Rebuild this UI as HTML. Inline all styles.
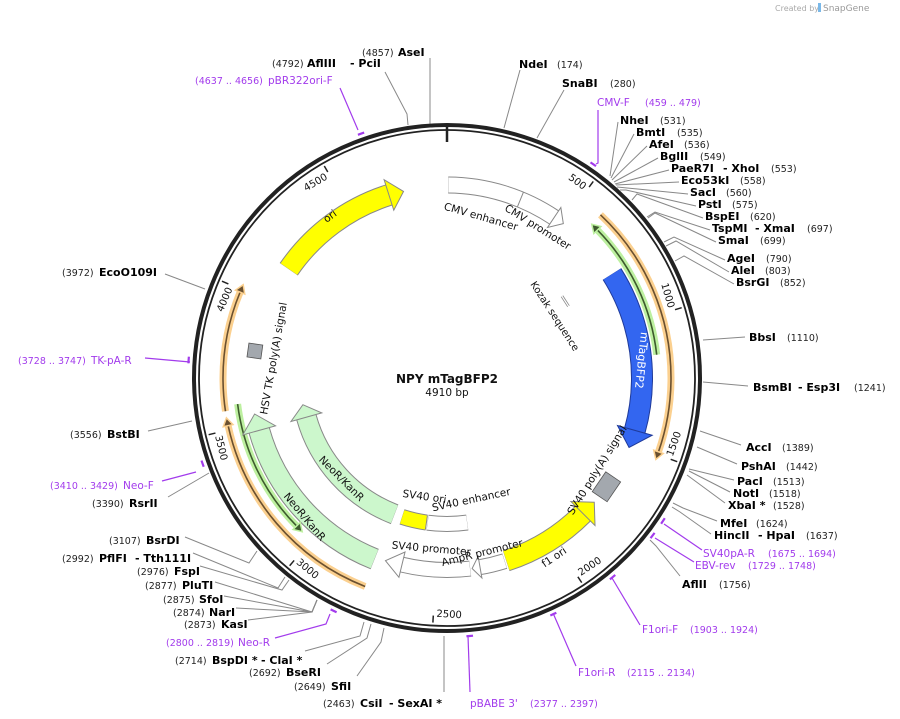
<!DOCTYPE html>
<html><head><meta charset="utf-8"><style>
html,body{margin:0;padding:0;background:#fff;}
svg{display:block;}
text{font-family:"DejaVu Sans","Liberation Sans",sans-serif;}
.b{font-weight:bold;font-size:11px;fill:#000;}
.n{font-size:9.5px;fill:#222;}
.p{font-size:10.5px;fill:#a23bec;}
.pn{font-size:9.5px;fill:#a23bec;}
.t{font-size:10px;fill:#111;}
.f{font-size:11px;fill:#111;}
</style></head><body>
<svg width="900" height="719" viewBox="0 0 900 719" xmlns="http://www.w3.org/2000/svg">
<rect width="900" height="719" fill="#fff"/>
<text x="775" y="11" style="font-size:8px;fill:#aaa">Created by</text>
<rect x="818" y="3" width="3" height="9" fill="#7ab8e8"/>
<text x="823" y="11" style="font-size:9px;fill:#999">SnapGene</text>

<g stroke="#888" stroke-width="1" fill="none">
<polyline points="430,124 430,58"/>
<polyline points="408,125 407,114 385,72"/>
<polyline points="504,128 520,70"/>
<polyline points="537,138 564,90"/>
<polyline points="610,176 618,122"/>
<polyline points="611,178 634,134"/>
<polyline points="612,180 647,146"/>
<polyline points="614,182 658,158"/>
<polyline points="615,184 669,170"/>
<polyline points="616,185 679,182"/>
<polyline points="617,187 688,194"/>
<polyline points="620,190 626,190 696,206"/>
<polyline points="632,200 637,194 703,218"/>
<polyline points="647,217 655,212 710,230"/>
<polyline points="648,218 655,213 716,242"/>
<polyline points="664,242 674,237 725,260"/>
<polyline points="666,246 676,241 729,272"/>
<polyline points="675,261 684,256 734,284"/>
<polyline points="703,340 745,337"/>
<polyline points="703,382 748,386"/>
<polyline points="700,431 741,445"/>
<polyline points="697,447 737,464"/>
<polyline points="689,469 734,480"/>
<polyline points="689,471 730,492"/>
<polyline points="687,475 725,503"/>
<polyline points="673,503 683,508 717,521"/>
<polyline points="672,507 680,512 711,534"/>
<polyline points="650,540 656,546 680,576"/>
<polyline points="444,636 444,692"/>
<polyline points="384,628 381,642 357,676"/>
<polyline points="371,624 367,638 327,664"/>
<polyline points="364,622 360,636 305,651"/>
<polyline points="317,600 312,612 248,620"/>
<polyline points="317,600 312,612 236,608"/>
<polyline points="317,600 312,612 224,596"/>
<polyline points="317,600 312,612 215,582"/>
<polyline points="289,580 282,590 200,566"/>
<polyline points="285,577 278,588 193,553"/>
<polyline points="257,551 249,563 185,537"/>
<polyline points="209,473 168,497"/>
<polyline points="192,421 148,431"/>
<polyline points="205,289 165,274"/>
</g>
<g stroke="#a23bec" stroke-width="1.2" fill="none">
<polyline points="358,130 340,88"/>
<polyline points="596,164 598,163 598,110"/>
<polyline points="664,524 702,550"/>
<polyline points="655,538 694,562"/>
<polyline points="612,578 640,625"/>
<polyline points="553,613 576,666"/>
<polyline points="468,636 470,692"/>
<polyline points="330,614 326,624 275,638"/>
<polyline points="196,472 162,481"/>
<polyline points="190,362 145,358"/>
</g>

<g transform="translate(447,378)">
<circle r="253" fill="none" stroke="#222" stroke-width="4"/>
<circle r="248" fill="none" stroke="#222" stroke-width="1.8"/>
<g transform="rotate(-90)" fill="none" stroke="#a23bec" stroke-width="2.2">
<circle r="259" pathLength="4910" stroke-dasharray="0 4637 20 4910"/>
<circle r="259" pathLength="4910" stroke-dasharray="0 459 20 4910"/>
<circle r="259" pathLength="4910" stroke-dasharray="0 1675 20 4910"/>
<circle r="259" pathLength="4910" stroke-dasharray="0 1729 20 4910"/>
<circle r="259" pathLength="4910" stroke-dasharray="0 1903 21 4910"/>
<circle r="259" pathLength="4910" stroke-dasharray="0 2115 20 4910"/>
<circle r="259" pathLength="4910" stroke-dasharray="0 2377 20 4910"/>
<circle r="259" pathLength="4910" stroke-dasharray="0 2800 20 4910"/>
<circle r="259" pathLength="4910" stroke-dasharray="0 3410 20 4910"/>
<circle r="259" pathLength="4910" stroke-dasharray="0 3728 20 4910"/>
</g>
<g stroke="#222" stroke-width="1.5">
<line x1="0" y1="-252" x2="0" y2="-236" stroke-width="2.5"/>
<line x1="0" y1="-245" x2="0" y2="-238" transform="rotate(36.66)"/>
<line x1="0" y1="-245" x2="0" y2="-238" transform="rotate(73.32)"/>
<line x1="0" y1="-245" x2="0" y2="-238" transform="rotate(109.98)"/>
<line x1="0" y1="-245" x2="0" y2="-238" transform="rotate(146.64)"/>
<line x1="0" y1="-245" x2="0" y2="-238" transform="rotate(183.3)"/>
<line x1="0" y1="-245" x2="0" y2="-238" transform="rotate(219.96)"/>
<line x1="0" y1="-245" x2="0" y2="-238" transform="rotate(256.62)"/>
<line x1="0" y1="-245" x2="0" y2="-238" transform="rotate(293.28)"/>
<line x1="0" y1="-245" x2="0" y2="-238" transform="rotate(329.94)"/>
</g>
<g class="t" style="font-size:10px">
<text transform="rotate(36.66)" x="-3" y="-232" text-anchor="end">500</text>
<text transform="rotate(73.32)" x="-3" y="-232" text-anchor="end">1000</text>
<text transform="rotate(-70.02)" x="3" y="239" text-anchor="start">1500</text>
<text transform="rotate(-33.36)" x="3" y="239" text-anchor="start">2000</text>
<text transform="rotate(3.3)" x="3" y="239" text-anchor="start">2500</text>
<text transform="rotate(39.96)" x="3" y="239" text-anchor="start">3000</text>
<text transform="rotate(76.62)" x="3" y="239" text-anchor="start">3500</text>
<text transform="rotate(293.28)" x="-3" y="-232" text-anchor="end">4000</text>
<text transform="rotate(329.94)" x="-3" y="-232" text-anchor="end">4500</text>
</g>

<g transform="rotate(-90)" fill="none">
<circle r="224" pathLength="4910" stroke="#fbd08f" stroke-width="7" stroke-dasharray="0 590 900 4910"/>
<circle r="224" pathLength="4910" stroke="#6a5030" stroke-width="1.6" stroke-dasharray="0 590 900 4910"/>
<circle r="224" pathLength="4910" stroke="#fbd08f" stroke-width="7" stroke-dasharray="0 3567 423 4910"/>
<circle r="224" pathLength="4910" stroke="#6a5030" stroke-width="1.6" stroke-dasharray="0 3567 423 4910"/>
<circle r="224" pathLength="4910" stroke="#fbd08f" stroke-width="7" stroke-dasharray="0 2748 767 4910"/>
<circle r="224" pathLength="4910" stroke="#6a5030" stroke-width="1.6" stroke-dasharray="0 2748 767 4910"/>
<circle r="211" pathLength="4910" stroke="#bdf0a0" stroke-width="7" stroke-dasharray="0 620 521 4910"/>
<circle r="211" pathLength="4910" stroke="#3d5a2d" stroke-width="1.6" stroke-dasharray="0 620 521 4910"/>
<circle r="211" pathLength="4910" stroke="#bdf0a0" stroke-width="7" stroke-dasharray="0 3075 511 4910"/>
<circle r="211" pathLength="4910" stroke="#3d5a2d" stroke-width="1.6" stroke-dasharray="0 3075 511 4910"/>

<circle r="195" pathLength="4910" stroke="#1f3a9a" stroke-width="22" stroke-dasharray="0 788 652 4910"/>
<circle r="195" pathLength="4910" stroke="#3366f0" stroke-width="20" stroke-dasharray="0 788.5 652 4910"/>
<circle r="192" pathLength="4910" stroke="#888" stroke-width="22" stroke-dasharray="0 4153 517 4910"/>
<circle r="192" pathLength="4910" stroke="#ffff00" stroke-width="20" stroke-dasharray="0 4154 516 4910"/>
<circle r="193" pathLength="4910" stroke="#888" stroke-width="17" stroke-dasharray="0 5 455 4910"/>
<circle r="193" pathLength="4910" stroke="#fff" stroke-width="15" stroke-dasharray="0 6 453 4910"/>
<circle r="192" pathLength="4910" stroke="#888" stroke-width="22" stroke-dasharray="0 1840 370 4910"/>
<circle r="192" pathLength="4910" stroke="#ffff00" stroke-width="20" stroke-dasharray="0 1840 369 4910"/>
<circle r="192" pathLength="4910" stroke="#888" stroke-width="16" stroke-dasharray="0 2216 104 4910"/>
<circle r="192" pathLength="4910" stroke="#fff" stroke-width="14" stroke-dasharray="0 2217 103 4910"/>
<circle r="192" pathLength="4910" stroke="#888" stroke-width="16" stroke-dasharray="0 2360 280 4910"/>
<circle r="192" pathLength="4910" stroke="#fff" stroke-width="14" stroke-dasharray="0 2361 279 4910"/>
<circle r="195" pathLength="4910" stroke="#888" stroke-width="22" stroke-dasharray="0 2752 718 4910"/>
<circle r="195" pathLength="4910" stroke="#ccf7cc" stroke-width="20" stroke-dasharray="0 2753 717 4910"/>
<circle r="146" pathLength="4910" stroke="#888" stroke-width="21" stroke-dasharray="0 2742 728 4910"/>
<circle r="146" pathLength="4910" stroke="#ccf7cc" stroke-width="19" stroke-dasharray="0 2743 727 4910"/>
<circle r="146" pathLength="4910" stroke="#888" stroke-width="16" stroke-dasharray="0 2346 214 4910"/>
<circle r="146" pathLength="4910" stroke="#fff" stroke-width="14" stroke-dasharray="0 2347 212 4910"/>
<circle r="146" pathLength="4910" stroke="#888" stroke-width="16" stroke-dasharray="0 2565 135 4910"/>
<circle r="146" pathLength="4910" stroke="#ffff00" stroke-width="14" stroke-dasharray="0 2566 133 4910"/>
</g>
<line x1="0" y1="-185" x2="0" y2="-201" stroke="#888" transform="rotate(22.36)"/>
<line x1="0" y1="-139" x2="0" y2="-153" stroke="#888" transform="rotate(188.1)"/>

<polygon transform="rotate(109.25)" points="0,-229 0,-219 8,-224" fill="#6a5030" stroke="#fbd08f" stroke-width="1.5"/>
<polygon transform="rotate(292.55)" points="0,-229 0,-219 8,-224" fill="#6a5030" stroke="#fbd08f" stroke-width="1.5"/>
<polygon transform="rotate(257.72)" points="0,-229 0,-219 8,-224" fill="#6a5030" stroke="#fbd08f" stroke-width="1.5"/>
<polygon transform="rotate(45.46)" points="0,-216 0,-206 -8,-211" fill="#3d5a2d" stroke="#bdf0a0" stroke-width="1.5"/>
<polygon transform="rotate(225.46)" points="0,-216 0,-206 -8,-211" fill="#3d5a2d" stroke="#bdf0a0" stroke-width="1.5"/>
<polygon transform="rotate(105.58)" points="0,-213 0,-177 18,-194" fill="#3366f0" stroke="#1f3a9a" stroke-width="1"/>
<polygon transform="rotate(342.4)" points="0,-208 0,-176 15,-191" fill="#ffff00" stroke="#888" stroke-width="1"/>
<polygon transform="rotate(33.73)" points="0,-205 0,-181 11,-193" fill="#fff" stroke="#888" stroke-width="1"/>
<polygon transform="rotate(134.91)" points="0,-209 0,-175 -16,-192" fill="#ffff00" stroke="#888" stroke-width="1"/>
<polygon transform="rotate(170.1)" points="0,-203 0,-181 8,-192" fill="#fff" stroke="#888" stroke-width="1"/>
<polygon transform="rotate(193.56)" points="0,-205 0,-179 17,-192" fill="#fff" stroke="#888" stroke-width="1"/>
<polygon transform="rotate(254.42)" points="0,-212 0,-178 17,-195" fill="#ccf7cc" stroke="#888" stroke-width="1"/>
<polygon transform="rotate(254.42)" points="0,-162 0,-130 13,-146" fill="#ccf7cc" stroke="#888" stroke-width="1"/>
<rect transform="rotate(278) translate(0,-194)" x="-7" y="-7" width="14" height="14" fill="#a3a8ae" stroke="#555" stroke-width="0.8"/>
<rect transform="rotate(124.3) translate(0,-193)" x="-12" y="-9" width="24" height="18" fill="#a3a8ae" stroke="#555" stroke-width="0.8"/>
<g transform="rotate(57)" stroke="#888" stroke-width="0.8"><line x1="-6" y1="-140" x2="6" y2="-140"/><line x1="-6" y1="-142" x2="6" y2="-142"/></g>
</g>

<g class="f">
<text x="480" y="220" transform="rotate(16 480 220)" text-anchor="middle" style="font-size:10.5px">CMV enhancer</text>
<text x="536" y="230" transform="rotate(32 536 230)" text-anchor="middle" style="font-size:10.5px">CMV promoter</text>
<text x="552" y="318" transform="rotate(57 552 318)" text-anchor="middle" style="font-size:10px">Kozak sequence</text>
<text x="638" y="360" transform="rotate(96 638 360)" text-anchor="middle" style="font-size:11px;fill:#fff">mTagBFP2</text>
<text x="600" y="472" transform="rotate(-58 600 472)" text-anchor="middle" style="font-size:10.5px">SV40 poly(A) signal</text>
<text x="556" y="560" transform="rotate(-34 556 560)" text-anchor="middle" style="font-size:10.5px">f1 ori</text>
<text x="483" y="556" transform="rotate(-14 483 556)" text-anchor="middle" style="font-size:10.5px">AmpR promoter</text>
<text x="431" y="552" transform="rotate(5 431 552)" text-anchor="middle" style="font-size:10.5px">SV40 promoter</text>
<text x="424" y="500" transform="rotate(8 424 500)" text-anchor="middle" style="font-size:10.5px">SV40 ori</text>
<text x="472" y="503" transform="rotate(-12 472 503)" text-anchor="middle" style="font-size:10.5px">SV40 enhancer</text>
<text x="339" y="481" transform="rotate(45 339 481)" text-anchor="middle" style="font-size:10.5px">NeoR/KanR</text>
<text x="302" y="519" transform="rotate(50 302 519)" text-anchor="middle" style="font-size:10.5px">NeoR/KanR</text>
<text x="277" y="359" transform="rotate(-80 277 359)" text-anchor="middle" style="font-size:10.5px">HSV TK poly(A) signal</text>
<text x="332" y="219" transform="rotate(-36 332 219)" text-anchor="middle" style="font-size:10.5px">ori</text>
<text x="447" y="383" text-anchor="middle" style="font-size:12px;font-weight:bold">NPY mTagBFP2</text>
<text x="447" y="396" text-anchor="middle" style="font-size:10.5px">4910 bp</text>
</g>

<text class="n" x="362" y="56">(4857)</text><text class="b" x="398" y="56">AseI</text>
<text class="n" x="272" y="67">(4792)</text><text class="b" x="307" y="67">AflIII</text><text class="b" x="350" y="67">- PciI</text>
<text class="pn" x="195" y="84">(4637 .. 4656)</text><text class="p" x="268" y="84">pBR322ori-F</text>
<text class="b" x="519" y="68">NdeI</text><text class="n" x="557" y="68">(174)</text>
<text class="b" x="562" y="87">SnaBI</text><text class="n" x="610" y="87">(280)</text>
<text class="p" x="597" y="106">CMV-F</text><text class="pn" x="645" y="106">(459 .. 479)</text>
<text class="b" x="620" y="124">NheI</text><text class="n" x="660" y="124">(531)</text>
<text class="b" x="636" y="136">BmtI</text><text class="n" x="677" y="136">(535)</text>
<text class="b" x="649" y="148">AfeI</text><text class="n" x="684" y="148">(536)</text>
<text class="b" x="660" y="160">BglII</text><text class="n" x="700" y="160">(549)</text>
<text class="b" x="671" y="172">PaeR7I</text><text class="b" x="723" y="172">- XhoI</text><text class="n" x="771" y="172">(553)</text>
<text class="b" x="681" y="184">Eco53kI</text><text class="n" x="740" y="184">(558)</text>
<text class="b" x="690" y="196">SacI</text><text class="n" x="726" y="196">(560)</text>
<text class="b" x="698" y="208">PstI</text><text class="n" x="732" y="208">(575)</text>
<text class="b" x="705" y="220">BspEI</text><text class="n" x="750" y="220">(620)</text>
<text class="b" x="712" y="232">TspMI</text><text class="b" x="755" y="232">- XmaI</text><text class="n" x="807" y="232">(697)</text>
<text class="b" x="718" y="244">SmaI</text><text class="n" x="760" y="244">(699)</text>
<text class="b" x="727" y="262">AgeI</text><text class="n" x="766" y="262">(790)</text>
<text class="b" x="731" y="274">AleI</text><text class="n" x="765" y="274">(803)</text>
<text class="b" x="736" y="286">BsrGI</text><text class="n" x="780" y="286">(852)</text>
<text class="b" x="749" y="341">BbsI</text><text class="n" x="787" y="341">(1110)</text>
<text class="b" x="753" y="391">BsmBI</text><text class="b" x="798" y="391">- Esp3I</text><text class="n" x="854" y="391">(1241)</text>
<text class="b" x="746" y="451">AccI</text><text class="n" x="782" y="451">(1389)</text>
<text class="b" x="741" y="470">PshAI</text><text class="n" x="786" y="470">(1442)</text>
<text class="b" x="737" y="485">PacI</text><text class="n" x="773" y="485">(1513)</text>
<text class="b" x="733" y="497">NotI</text><text class="n" x="769" y="497">(1518)</text>
<text class="b" x="728" y="509">XbaI *</text><text class="n" x="773" y="509">(1528)</text>
<text class="b" x="720" y="527">MfeI</text><text class="n" x="756" y="527">(1624)</text>
<text class="b" x="714" y="539">HincII</text><text class="b" x="758" y="539">- HpaI</text><text class="n" x="806" y="539">(1637)</text>
<text class="p" x="703" y="557">SV40pA-R</text><text class="pn" x="768" y="557">(1675 .. 1694)</text>
<text class="p" x="695" y="569">EBV-rev</text><text class="pn" x="748" y="569">(1729 .. 1748)</text>
<text class="b" x="682" y="588">AflII</text><text class="n" x="719" y="588">(1756)</text>
<text class="p" x="642" y="633">F1ori-F</text><text class="pn" x="690" y="633">(1903 .. 1924)</text>
<text class="p" x="578" y="676">F1ori-R</text><text class="pn" x="627" y="676">(2115 .. 2134)</text>
<text class="p" x="470" y="707">pBABE 3'</text><text class="pn" x="530" y="707">(2377 .. 2397)</text>
<text class="n" x="323" y="707">(2463)</text><text class="b" x="360" y="707">CsiI</text><text class="b" x="389" y="707">- SexAI *</text>
<text class="n" x="294" y="690">(2649)</text><text class="b" x="331" y="690">SfiI</text>
<text class="n" x="249" y="676">(2692)</text><text class="b" x="286" y="676">BseRI</text>
<text class="n" x="175" y="664">(2714)</text><text class="b" x="212" y="664">BspDI *</text><text class="b" x="261" y="664">- ClaI *</text>
<text class="pn" x="166" y="646">(2800 .. 2819)</text><text class="p" x="238" y="646">Neo-R</text>
<text class="n" x="184" y="628">(2873)</text><text class="b" x="221" y="628">KasI</text>
<text class="n" x="173" y="616">(2874)</text><text class="b" x="209" y="616">NarI</text>
<text class="n" x="163" y="603">(2875)</text><text class="b" x="199" y="603">SfoI</text>
<text class="n" x="145" y="589">(2877)</text><text class="b" x="182" y="589">PluTI</text>
<text class="n" x="137" y="575">(2976)</text><text class="b" x="174" y="575">FspI</text>
<text class="n" x="62" y="562">(2992)</text><text class="b" x="99" y="562">PflFI</text><text class="b" x="135" y="562">- Tth111I</text>
<text class="n" x="109" y="544">(3107)</text><text class="b" x="146" y="544">BsrDI</text>
<text class="n" x="92" y="507">(3390)</text><text class="b" x="129" y="507">RsrII</text>
<text class="pn" x="50" y="489">(3410 .. 3429)</text><text class="p" x="123" y="489">Neo-F</text>
<text class="n" x="70" y="438">(3556)</text><text class="b" x="107" y="438">BstBI</text>
<text class="pn" x="18" y="364">(3728 .. 3747)</text><text class="p" x="91" y="364">TK-pA-R</text>
<text class="n" x="62" y="276">(3972)</text><text class="b" x="99" y="276">EcoO109I</text>
</svg>
</body></html>
